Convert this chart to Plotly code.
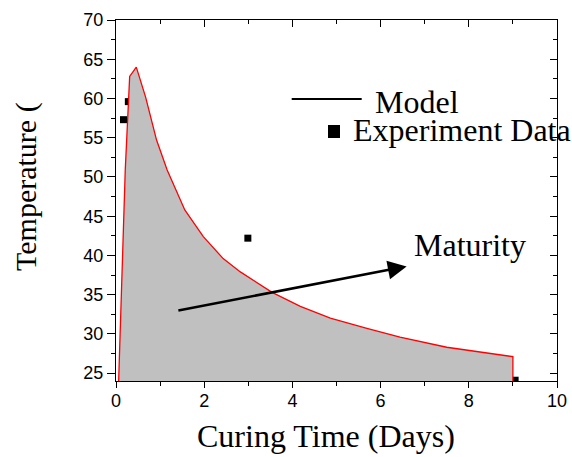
import plotly.graph_objects as go

# Model curve: curing time (days) vs temperature
model_t = [0.06, 0.16, 0.21, 0.31, 0.46, 0.67, 0.92, 1.16, 1.56, 1.98, 2.43,
           2.82, 3.54, 4.18, 4.86, 5.69, 6.44, 7.50, 8.26, 9.00]
model_T = [24.0, 40.8, 50.9, 62.8, 64.0, 60.2, 54.7, 50.9, 45.8, 42.4, 39.6,
           37.9, 35.3, 33.5, 32.0, 30.7, 29.6, 28.3, 27.7, 27.1]

# Experiment measurements
exp_t = [0.17, 0.28, 2.99, 9.05]
exp_T = [57.3, 59.6, 42.2, 24.1]

X_RANGE = [0, 10]
Y_RANGE = [24, 70]

# Maturity arrow (tail -> head), data coordinates
arrow_tail = (1.38, 32.95)
arrow_head = (6.59, 38.6)

SERIF = "Liberation Serif, Times New Roman, serif"
SANS = "Liberation Sans, Arial, sans-serif"

# plot-area geometry in pixels, used to place the decorations
L, R, T, B = 116, 15, 20, 76
W, H = 572, 457
PW, PH = W - L - R, H - T - B


def px(x):
    return (x - L) / PW


def py(y):
    return (H - B - y) / PH


fig = go.Figure()

fig.add_trace(go.Scatter(
    x=exp_t, y=exp_T, mode="markers",
    marker=dict(symbol="square", size=7, color="black"),
    showlegend=False,
))

# Closed model region: fill under the curve and drop to the axis at the end
fig.add_trace(go.Scatter(
    x=model_t + [model_t[-1]], y=model_T + [Y_RANGE[0]],
    mode="lines", fill="tozeroy", fillcolor="#c0c0c0",
    line=dict(color="#ff0000", width=1.3),
    showlegend=False,
))

# Empty trace so the mirrored top/right axes get drawn
fig.add_trace(go.Scatter(x=[], y=[], xaxis="x2", yaxis="y2", showlegend=False))

axis_common = dict(showgrid=False, zeroline=False, showline=True,
                   linecolor="black", linewidth=1.3, tickcolor="black",
                   tickwidth=1.2, automargin=False)

fig.update_layout(
    width=W, height=H,
    margin=dict(l=L, r=R, t=T, b=B, autoexpand=False),
    paper_bgcolor="white", plot_bgcolor="white",
    xaxis=dict(range=X_RANGE, tick0=0, dtick=2, ticks="outside", ticklen=6,
               ticklabelstandoff=-3,
               tickfont=dict(family=SANS, size=18, color="black"),
               minor=dict(dtick=1, ticks="outside", ticklen=4,
                          tickcolor="black", tickwidth=1.2),
               **axis_common),
    yaxis=dict(range=Y_RANGE, tick0=0, dtick=5, ticks="outside", ticklen=8,
               tickfont=dict(family=SANS, size=18, color="black"),
               minor=dict(dtick=2.5, ticks="outside", ticklen=4,
                          tickcolor="black", tickwidth=1.2),
               **axis_common),
    xaxis2=dict(range=X_RANGE, overlaying="x", side="top", anchor="y2",
                tick0=0, dtick=2, ticks="inside", ticklen=7,
                showticklabels=False,
                minor=dict(dtick=1, ticks="inside", ticklen=4,
                           tickcolor="black", tickwidth=1.2),
                **axis_common),
    yaxis2=dict(range=Y_RANGE, overlaying="y", side="right", anchor="x2",
                tick0=0, dtick=5, ticks="inside", ticklen=7,
                showticklabels=False,
                minor=dict(dtick=2.5, ticks="inside", ticklen=4,
                           tickcolor="black", tickwidth=1.2),
                **axis_common),
)

# Axis titles
fig.add_annotation(text="Curing Time (Days)", xref="paper", yref="paper",
                   x=px(326), y=py(436), xanchor="center", yanchor="middle",
                   showarrow=False, font=dict(family=SERIF, size=32, color="black"))
fig.add_annotation(text="Temperature (", xref="paper", yref="paper",
                   x=px(26), y=py(187), xanchor="center", yanchor="middle",
                   textangle=-90, showarrow=False,
                   font=dict(family=SERIF, size=30, color="black"))

# Legend entries
fig.add_shape(type="line", xref="paper", yref="paper",
              x0=px(291.7), x1=px(361.7), y0=py(99), y1=py(99),
              line=dict(color="black", width=1.8))
fig.add_annotation(text="Model", xref="paper", yref="paper",
                   x=px(373), y=py(102),
                   xanchor="left", yanchor="middle", showarrow=False,
                   font=dict(family=SERIF, size=32, color="black"))
fig.add_shape(type="rect", xref="paper", yref="paper",
              xsizemode="pixel", ysizemode="pixel",
              xanchor=px(334), yanchor=py(131.5),
              x0=-6, x1=6, y0=-6.5, y1=6.5,
              fillcolor="black", line=dict(width=0))
fig.add_annotation(text="Experiment Data", xref="paper", yref="paper",
                   x=px(351), y=py(130),
                   xanchor="left", yanchor="middle", showarrow=False,
                   font=dict(family=SERIF, size=32, color="black"))

# Maturity arrow and label
fig.add_annotation(x=arrow_head[0], y=arrow_head[1], ax=arrow_tail[0], ay=arrow_tail[1],
                   xref="x", yref="y", axref="x", ayref="y", text="",
                   showarrow=True, arrowhead=2, arrowsize=1.5, arrowwidth=2.5,
                   arrowcolor="black", standoff=0)
fig.add_annotation(text="Maturity", xref="paper", yref="paper",
                   x=px(412), y=py(245.5),
                   xanchor="left", yanchor="middle", showarrow=False,
                   font=dict(family=SERIF, size=32, color="black"))

fig.write_html("out.html")
